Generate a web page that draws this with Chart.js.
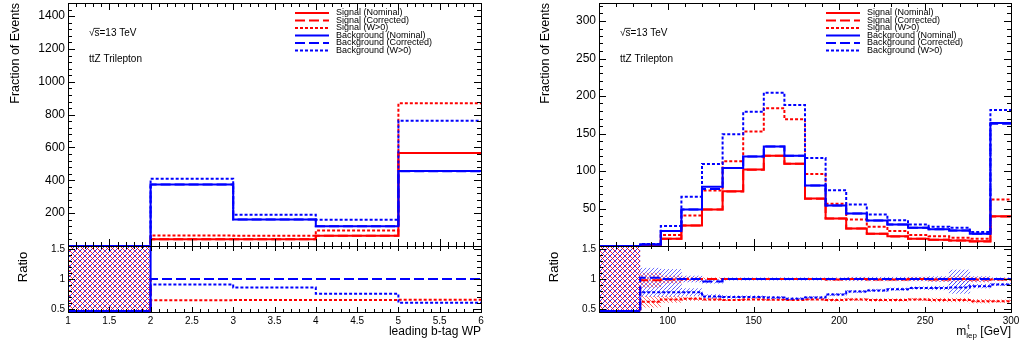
<!DOCTYPE html>
<html><head><meta charset="utf-8">
<script src="https://cdn.jsdelivr.net/npm/chart.js@4.4.0/dist/chart.umd.min.js"></script>
<style>
html,body{margin:0;padding:0;background:#fff;width:1024px;height:345px;overflow:hidden;position:relative}
canvas{position:absolute}
</style></head><body>
<canvas id="cTL" style="left:0px;top:0px" width="490" height="246"></canvas>
<canvas id="cBL" style="left:0px;top:236px" width="490" height="109"></canvas>
<canvas id="cTR" style="left:530px;top:0px" width="494" height="246"></canvas>
<canvas id="cBR" style="left:530px;top:236px" width="494" height="109"></canvas>
<script>
// ---------------- data ----------------
const seriesNames = ['Signal (Nominal)','Signal (Corrected)','Signal (W>0)','Background (Nominal)','Background (Corrected)','Background (W>0)'];

// left: leading b-tag WP (bin edges)
const edgesL   = [1, 2, 3, 4, 5, 6];
const sigNomL  = [0, 41, 41, 62, 566];
const sigCorL  = [0, 41, 41, 62, 566];
const sigW0L   = [0, 64, 63, 95, 870];
const bkgNomL  = [0, 374, 161, 121, 457];
const bkgCorL  = [0, 374, 161, 121, 455];
const bkgW0L   = [0, 410, 190, 160, 763];
const rSigCorL = [0, 1.0, 1.0, 1.0, 1.0];
const rSigW0L  = [0, 0.645, 0.65, 0.65, 0.655];
const rBkgCorL = [0, 1.0, 1.0, 1.0, 1.0];
const rBkgW0L  = [0, 0.91, 0.86, 0.755, 0.605];

// right: m_lep^t [GeV] (bin edges)
const edgesR   = [60,72,84,96,108,120,132,144,156,168,180,192,204,216,228,240,252,264,276,288,300];
const sigNomR  = [0,0,0.6,9.8,27.5,48.7,73,101.9,120.4,109.8,63.3,36.8,23.5,16.4,12.9,9.8,8.5,7.2,6.2,39.8];
const sigCorR  = [0,0,0.6,9.7,27.4,48.6,72.8,101.7,120.2,109.6,63.1,36.6,23.4,16.3,12.8,9.8,8.4,7.2,6.1,39.5];
const sigW0R   = [0,0,1.0,14.6,40.8,74,113,152.7,183.8,169,96,56.3,35.5,25.8,20,14.6,13,11,9.8,62];
const bkgNomR  = [0,0,2,20,48.7,79,104,119.5,132.8,120.4,80.6,54,43.4,34,28.8,24.4,22.2,20.8,16.4,163.9];
const bkgCorR  = [0,0,2,20,48.7,76,104,119.5,132.8,120.4,80.6,54,43.4,34,28.8,24.4,22.2,20.8,16.4,163];
const bkgW0R   = [0,0,2.6,26.6,65.6,109.4,149,179,204.5,188,117.4,74.4,55.4,42,34.5,28.8,25.8,24.4,18.6,181.5];
const rSigCorR = [0,0,0.98,0.99,1.0,1.0,1.0,1.0,1.0,1.0,1.0,0.99,1.0,0.99,0.99,1.0,0.99,1.0,0.99,0.99];
const rSigW0R  = [0,0,0.62,0.66,0.67,0.66,0.65,0.66,0.655,0.65,0.66,0.65,0.66,0.65,0.65,0.66,0.65,0.65,0.63,0.63];
const rBkgCorR = [0,0,1.02,1.0,1.0,0.96,1.0,1.0,1.0,1.0,1.0,1.0,1.0,1.0,1.0,1.0,1.0,1.0,1.0,1.0];
const rBkgW0R  = [0,0,0.78,0.78,0.78,0.71,0.70,0.70,0.69,0.67,0.69,0.74,0.79,0.81,0.83,0.85,0.85,0.86,0.88,0.91];
const eSigCorR = [0,0,0.12,0.06,0.03,0.02,0.01,0.01,0.01,0.01,0.01,0.02,0.02,0.02,0.02,0.03,0.03,0.04,0.04,0.02];
const eSigW0R  = [0,0,0.09,0.05,0.03,0.02,0.01,0.01,0.01,0.01,0.01,0.02,0.02,0.02,0.02,0.02,0.03,0.03,0.03,0.02];
const eBkgCorR = [0,0,0.16,0.16,0.05,0.03,0.02,0.02,0.02,0.02,0.02,0.02,0.03,0.03,0.03,0.03,0.04,0.15,0.04,0.02];
const eBkgW0R  = [0,0,0.07,0.07,0.06,0.03,0.02,0.02,0.02,0.02,0.02,0.02,0.02,0.02,0.02,0.02,0.03,0.10,0.03,0.02];

// tick labels
const xTicksL = [1,1.5,2,2.5,3,3.5,4,4.5,5,5.5,6];
const yTicksTopL = [200,400,600,800,1000,1200,1400];
const xTicksR = [100,150,200,250,300];
const yTicksTopR = [50,100,150,200,250,300];
const yTicksRatio = [0.5,1,1.5];

// ---------------- helpers ----------------
Chart.defaults.font.family = '"Liberation Sans", Arial, Helvetica, sans-serif';
Chart.defaults.color = '#000';
const RED = '#ff0000', BLUE = '#0000ff';
const DASH_COR = [10, 4], DASH_W0 = [3, 2];

function makePattern(size, draw){
  const c = document.createElement('canvas'); c.width = c.height = size;
  const g = c.getContext('2d'); draw(g, size);
  return g.createPattern(c, 'repeat');
}
const crossHatch = makePattern(5, (g, s) => {
  g.lineWidth = 1;
  g.strokeStyle = 'rgba(0,0,255,0.85)'; g.beginPath(); g.moveTo(-1, s+1); g.lineTo(s+1, -1); g.stroke();
  g.strokeStyle = 'rgba(255,0,0,0.85)'; g.beginPath(); g.moveTo(-1, -1); g.lineTo(s+1, s+1); g.stroke();
});
const blueHatch = makePattern(4, (g, s) => {
  g.lineWidth = 1; g.strokeStyle = 'rgba(60,60,255,0.75)';
  g.beginPath(); g.moveTo(-1, s+1); g.lineTo(s+1, -1); g.stroke();
});
const redHatch = makePattern(4, (g, s) => {
  g.lineWidth = 1; g.strokeStyle = 'rgba(255,60,60,0.75)';
  g.beginPath(); g.moveTo(-1, -1); g.lineTo(s+1, s+1); g.stroke();
});

function hist(edges, vals){
  const p = vals.map((v, i) => ({x: edges[i], y: v}));
  p.push({x: edges[edges.length-1], y: vals[vals.length-1]});
  return p;
}
function hline(label, edges, vals, color, dash, order){
  return {type:'line', label, data: hist(edges, vals), borderColor: color, borderWidth: 2,
    borderDash: dash, stepped: true, pointRadius: 0, fill: false, order, borderCapStyle: 'butt', tension: 0};
}
function band(edges, vals, errs, pattern){
  const d = [];
  vals.forEach((v, i) => { d.push({x: (edges[i]+edges[i+1])/2, y: v > 0 ? [v-errs[i], v+errs[i]] : [v, v]}); });
  return {type:'bar', data: d, backgroundColor: pattern, borderWidth: 0, barPercentage: 1,
    categoryPercentage: 1, grouped: false, order: 10};
}
function emptyRange(edges, a, b){
  let i = 0; while (i < a.length && a[i] === 0 && b[i] === 0) i++;
  return i > 0 ? [[edges[0], edges[i]]] : [];
}
function minorVals(min, max, step){
  const out = []; const k0 = Math.ceil(min/step - 1e-9), k1 = Math.floor(max/step + 1e-9);
  for (let k = k0; k <= k1; k++) out.push(k*step);
  return out;
}

// ---------------- plugins ----------------
const rootAxes = {
  id: 'rootAxes',
  afterDatasetsDraw(chart, args, o){
    const {ctx, chartArea: a, scales: {x, y}} = chart;
    const L = Math.round(a.left), R = Math.round(a.right), T = Math.round(a.top), B = Math.round(a.bottom);
    ctx.save();
    ctx.strokeStyle = '#000'; ctx.lineWidth = 1;
    ctx.beginPath();
    const seg = (x1, y1, x2, y2) => { ctx.moveTo(x1, y1); ctx.lineTo(x2, y2); };
    const isMaj = (v, list) => list.some(t => Math.abs(t - v) < 1e-6);
    minorVals(x.min, x.max, o.xMinor).forEach(v => {
      const px = Math.round(x.getPixelForValue(v)) + 0.5;
      const len = isMaj(v, o.xMaj) ? o.xMajLen : o.xMinLen;
      seg(px, B, px, B - len); seg(px, T, px, T + len);
    });
    minorVals(y.min, y.max, o.yMinor).forEach(v => {
      const py = Math.round(y.getPixelForValue(v)) + 0.5;
      const len = isMaj(v, o.yMaj) ? o.yMajLen : o.yMinLen;
      seg(L, py, L + len, py); seg(R, py, R - len, py);
    });
    ctx.stroke();
    ctx.strokeRect(L + 0.5, T + 0.5, R - L, B - T);
    ctx.restore();
  }
};
const emptyHatch = {
  id: 'emptyHatch',
  beforeDatasetsDraw(chart, args, o){
    if (!o.ranges) return;
    const {ctx, chartArea: a, scales: {x}} = chart;
    ctx.save(); ctx.fillStyle = crossHatch;
    o.ranges.forEach(([x0, x1]) => {
      const p0 = x.getPixelForValue(x0), p1 = x.getPixelForValue(x1);
      ctx.fillRect(p0, a.top, p1 - p0, a.bottom - a.top);
      ctx.strokeStyle = BLUE; ctx.lineWidth = 2;
      ctx.beginPath();
      ctx.moveTo(p0, a.bottom - 1); ctx.lineTo(p1, a.bottom - 1);
      if (o.fullEdge) { ctx.lineTo(p1, a.top + 1); }
      ctx.stroke();
    });
    ctx.restore();
  }
};
const annot = {
  id: 'annot',
  afterDraw(chart, args, o){
    if (!o.show) return;
    const {ctx, chartArea: a} = chart;
    ctx.save();
    ctx.fillStyle = '#000'; ctx.textBaseline = 'middle'; ctx.textAlign = 'left';
    ctx.font = '10px "Liberation Sans", Arial, sans-serif';
    const tx = a.left + 21, ty = a.top + 30;
    ctx.fillText('\u221As=13 TeV', tx, ty);
    const wr = ctx.measureText('\u221A').width, ws = ctx.measureText('s').width;
    ctx.strokeStyle = '#000'; ctx.lineWidth = 0.8;
    ctx.beginPath(); ctx.moveTo(tx + wr - 0.6, ty - 4.6); ctx.lineTo(tx + wr + ws + 0.3, ty - 4.6); ctx.stroke();
    ctx.fillText('ttZ Trilepton', tx, a.top + 56);
    // legend
    ctx.font = '9px "Liberation Sans", Arial, sans-serif';
    chart.data.datasets.forEach((ds, i) => {
      const ly = a.top + 10 + i * 7.5;
      ctx.strokeStyle = ds.borderColor; ctx.lineWidth = 2; ctx.setLineDash(ds.borderDash || []);
      ctx.beginPath(); ctx.moveTo(a.left + 227, ly); ctx.lineTo(a.left + 261, ly); ctx.stroke();
      ctx.setLineDash([]);
      ctx.fillStyle = '#000';
      ctx.fillText(ds.label, a.left + 268, ly);
    });
    ctx.restore();
  }
};
const ratioTitles = {
  id: 'ratioTitles',
  afterDraw(chart, args, o){
    const {ctx, chartArea: a} = chart;
    ctx.save(); ctx.fillStyle = '#000';
    ctx.font = '13px "Liberation Sans", Arial, sans-serif';
    ctx.translate(a.left - 45, a.top + 21); ctx.rotate(-Math.PI/2);
    ctx.textAlign = 'center'; ctx.textBaseline = 'middle';
    ctx.fillText('Ratio', 0, 0);
    ctx.restore();
    if (o.mlep){
      ctx.save(); ctx.fillStyle = '#000'; ctx.textBaseline = 'middle'; ctx.textAlign = 'left';
      const big = '12px "Liberation Sans", Arial, sans-serif', small = '8px "Liberation Sans", Arial, sans-serif';
      ctx.font = big; const wm = ctx.measureText('m').width, wg = ctx.measureText(' [GeV]').width;
      ctx.font = small; const wl = ctx.measureText('lep').width;
      const y0 = a.bottom + 20;
      const x0 = a.right - (wm + wl + wg);
      ctx.font = big; ctx.fillText('m', x0, y0);
      ctx.font = small; ctx.fillText('t', x0 + wm + 1, y0 - 5); ctx.fillText('lep', x0 + wm, y0 + 4);
      ctx.font = big; ctx.fillText(' [GeV]', x0 + wm + wl, y0);
      ctx.restore();
    }
  }
};

// ---------------- chart builders ----------------
function fitY(w){ return s => { s.width = w; s.paddingTop = 0; s.paddingBottom = 0; }; }
function fitX(h){ return s => { s.height = h; s.paddingLeft = 0; s.paddingRight = 0; }; }

function topChart(id, edges, datasets, yMax, xTicks, yTicks, xMinor, yMinor, yw, padR){
  return new Chart(document.getElementById(id), {
    type: 'line',
    data: {datasets},
    options: {
      responsive: false, animation: false, devicePixelRatio: 1,
      layout: {padding: {left: 0, right: padR, top: 3, bottom: 0}},
      plugins: {legend: {display: false}, tooltip: {enabled: false},
        rootAxes: {xMaj: xTicks, yMaj: yTicks, xMinor, yMinor, xMajLen: 7, xMinLen: 4, yMajLen: 7, yMinLen: 4},
        annot: {show: true}},
      scales: {
        x: {type: 'linear', min: edges[0], max: edges[edges.length-1], offset: false,
            grid: {display: false, drawTicks: false}, border: {display: false}, ticks: {display: false},
            afterBuildTicks: s => { s.ticks = xTicks.map(v => ({value: v})); },
            afterFit: fitX(0)},
        y: {type: 'linear', min: 0, max: yMax,
            grid: {display: false, drawTicks: false}, border: {display: false},
            ticks: {font: {size: 12}, padding: 3, callback: v => String(v)},
            afterBuildTicks: s => { s.ticks = yTicks.map(v => ({value: v})); },
            afterFit: fitY(yw),
            title: {display: true, text: 'Fraction of Events', align: 'end', font: {size: 12.5}, padding: {top: 8, bottom: 0}}}
      }
    },
    plugins: [rootAxes, annot]
  });
}
function ratioChart(id, edges, datasets, xTicks, xMinor, yw, padR, xTitle, ranges, fullEdge){
  return new Chart(document.getElementById(id), {
    type: 'line',
    data: {datasets},
    options: {
      responsive: false, animation: false, devicePixelRatio: 1,
      layout: {padding: {left: 0, right: padR, top: 10, bottom: 0}},
      plugins: {legend: {display: false}, tooltip: {enabled: false},
        rootAxes: {xMaj: xTicks, yMaj: yTicksRatio, xMinor, yMinor: 0.1, xMajLen: 5, xMinLen: 3, yMajLen: 7, yMinLen: 4},
        emptyHatch: {ranges, fullEdge}, ratioTitles: {mlep: !xTitle}},
      scales: {
        x: {type: 'linear', min: edges[0], max: edges[edges.length-1], offset: false,
            grid: {display: false, drawTicks: false}, border: {display: false},
            ticks: {font: {size: 10}, padding: 3, autoSkip: false, maxRotation: 0, callback: v => String(v)},
            afterBuildTicks: s => { s.ticks = xTicks.map(v => ({value: v})); },
            afterFit: fitX(33),
            title: {display: !!xTitle, text: xTitle || '', align: 'end', font: {size: 12}, padding: {top: 0, bottom: 6}}},
        y: {type: 'linear', min: 0.45, max: 1.55,
            grid: {display: false, drawTicks: false}, border: {display: false},
            ticks: {font: {size: 10}, padding: 3, callback: v => String(v)},
            afterBuildTicks: s => { s.ticks = yTicksRatio.map(v => ({value: v})); },
            afterFit: fitY(yw)}
      }
    },
    plugins: [emptyHatch, rootAxes, ratioTitles]
  });
}

// ---------------- build ----------------
topChart('cTL', edgesL, [
  hline(seriesNames[0], edgesL, sigNomL, RED, [], 3),
  hline(seriesNames[1], edgesL, sigCorL, RED, DASH_COR, 3),
  hline(seriesNames[2], edgesL, sigW0L, RED, DASH_W0, 3),
  hline(seriesNames[3], edgesL, bkgNomL, BLUE, [], 1),
  hline(seriesNames[4], edgesL, bkgCorL, BLUE, DASH_COR, 1),
  hline(seriesNames[5], edgesL, bkgW0L, BLUE, DASH_W0, 1)
], 1480, xTicksL, yTicksTopL, 0.1, 40, 68, 9);

ratioChart('cBL', edgesL, [
  hline('Signal corrected ratio', edgesL, rSigCorL, RED, DASH_COR, 3),
  hline('Signal W>0 ratio', edgesL, rSigW0L, RED, DASH_W0, 3),
  hline('Background corrected ratio', edgesL, rBkgCorL, BLUE, DASH_COR, 1),
  hline('Background W>0 ratio', edgesL, rBkgW0L, BLUE, DASH_W0, 1)
], xTicksL, 0.1, 68, 9, 'leading b-tag WP', emptyRange(edgesL, sigNomL, bkgNomL), true);

topChart('cTR', edgesR, [
  hline(seriesNames[0], edgesR, sigNomR, RED, [], 3),
  hline(seriesNames[1], edgesR, sigCorR, RED, DASH_COR, 3),
  hline(seriesNames[2], edgesR, sigW0R, RED, DASH_W0, 3),
  hline(seriesNames[3], edgesR, bkgNomR, BLUE, [], 1),
  hline(seriesNames[4], edgesR, bkgCorR, BLUE, DASH_COR, 1),
  hline(seriesNames[5], edgesR, bkgW0R, BLUE, DASH_W0, 1)
], 324, xTicksR, yTicksTopR, 10, 10, 69, 13);

ratioChart('cBR', edgesR, [
  band(edgesR, rSigCorR, eSigCorR, redHatch),
  band(edgesR, rSigW0R, eSigW0R, redHatch),
  band(edgesR, rBkgCorR, eBkgCorR, blueHatch),
  band(edgesR, rBkgW0R, eBkgW0R, blueHatch),
  hline('Signal corrected ratio', edgesR, rSigCorR, RED, DASH_COR, 3),
  hline('Signal W>0 ratio', edgesR, rSigW0R, RED, DASH_W0, 3),
  hline('Background corrected ratio', edgesR, rBkgCorR, BLUE, DASH_COR, 1),
  hline('Background W>0 ratio', edgesR, rBkgW0R, BLUE, DASH_W0, 1)
], xTicksR, 10, 69, 13, null, emptyRange(edgesR, sigNomR, bkgNomR), false);
</script>
</body></html>
